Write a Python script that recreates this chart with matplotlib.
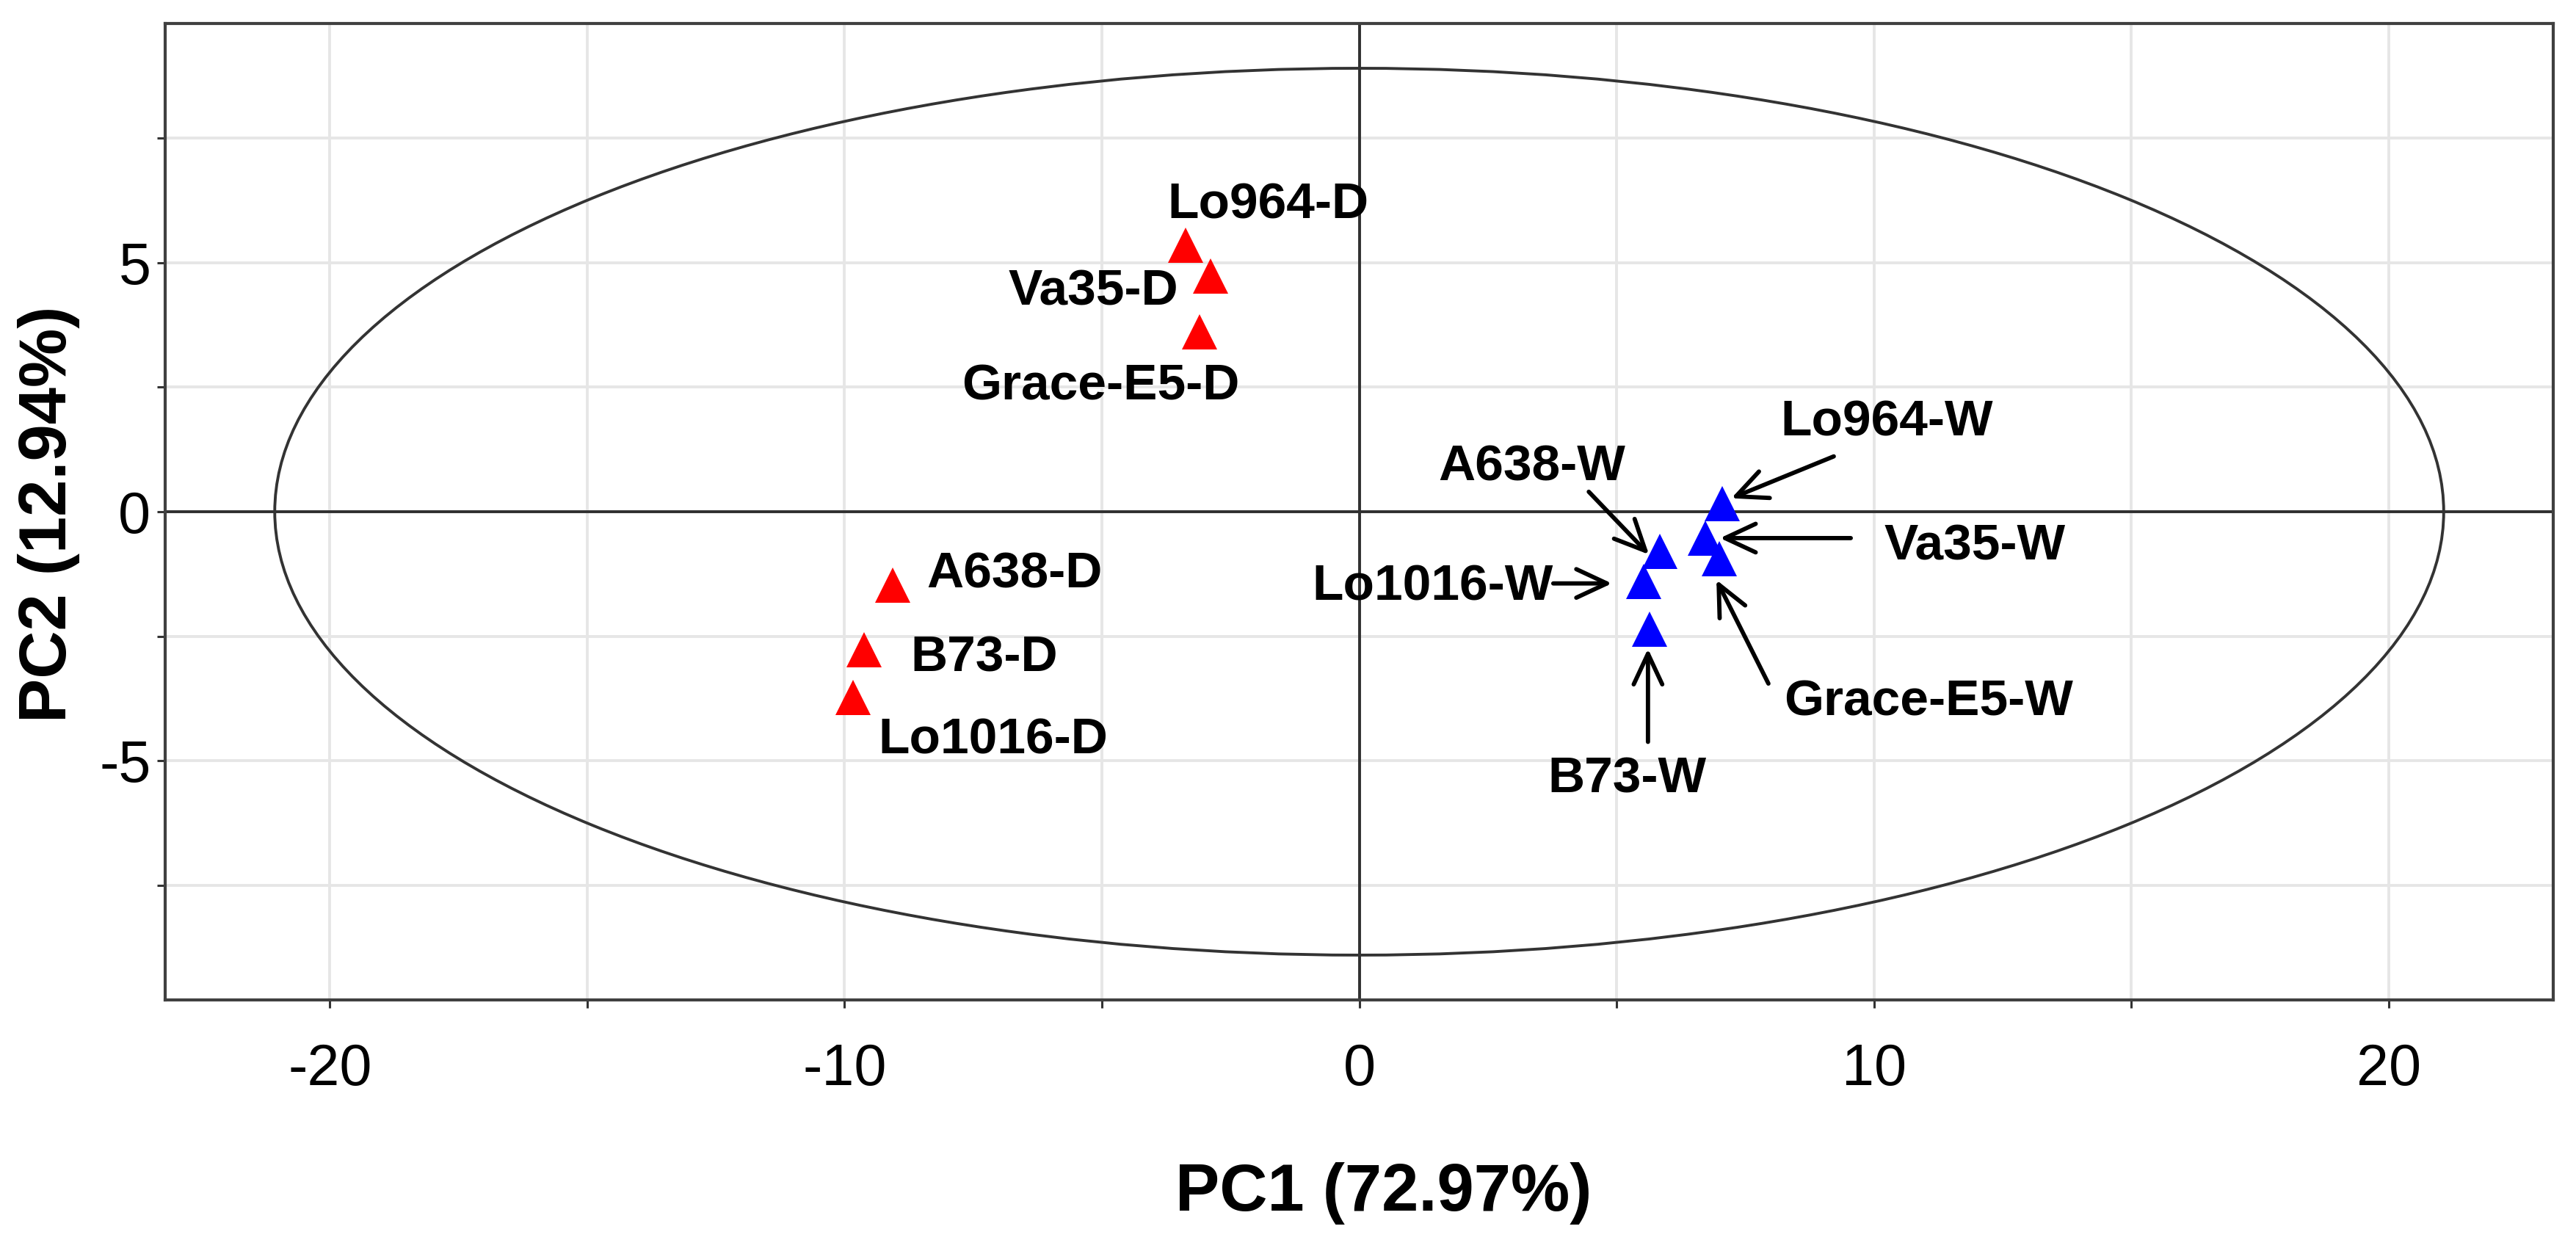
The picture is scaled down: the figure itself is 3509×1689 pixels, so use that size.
import matplotlib
matplotlib.use('Agg')
import matplotlib.pyplot as plt
from matplotlib.patches import Ellipse

# scores
dry_names = ["Lo964-D", "Va35-D", "Grace-E5-D", "A638-D", "B73-D", "Lo1016-D"]
dry_pc1 = [-3.38, -2.89, -3.10, -9.07, -9.62, -9.84]
dry_pc2 = [5.35, 4.73, 3.61, -1.47, -2.77, -3.73]

wet_names = ["Lo964-W", "Va35-W", "Grace-E5-W", "A638-W", "Lo1016-W", "B73-W"]
wet_pc1 = [7.05, 6.72, 6.99, 5.84, 5.53, 5.64]
wet_pc2 = [0.16, -0.53, -0.95, -0.79, -1.40, -2.36]

pc1_label = "PC1 (72.97%)"
pc2_label = "PC2 (12.94%)"

# Hotelling T2 ellipse half axes
ell_a = 21.07
ell_b = 8.9

# label layout (left / baseline of text, data units)
dry_text_pos = {
    "Lo964-D": (-3.72, 5.89),
    "Va35-D": (-6.82, 4.15),
    "Grace-E5-D": (-7.72, 2.24),
    "A638-D": (-8.40, -1.52),
    "B73-D": (-8.72, -3.21),
    "Lo1016-D": (-9.34, -4.86),
}
# text anchor, arrow start, arrow tip
wet_text_pos = {
    "Lo964-W": ((8.19, 1.52), (9.22, 1.11), (7.23, 0.27)),
    "Va35-W": ((10.2, -0.97), (9.55, -0.53), (7.01, -0.53)),
    "Grace-E5-W": ((8.25, -4.09), (7.95, -3.45), (6.94, -1.37)),
    "A638-W": ((1.54, 0.63), (4.46, 0.40), (5.63, -0.86)),
    "Lo1016-W": ((-0.91, -1.78), (3.77, -1.44), (4.91, -1.44)),
    "B73-W": ((3.66, -5.64), (5.61, -4.62), (5.61, -2.75)),
}

plt.rcParams['font.family'] = ['Liberation Sans', 'DejaVu Sans']
plt.rcParams['axes.unicode_minus'] = False

fig = plt.figure(figsize=(17.545, 8.445), dpi=200)
ax = fig.add_axes([0.0641, 0.1936, 0.9271, 0.7875])

ax.set_xlim(-23.2, 23.2)
ax.set_ylim(-9.8, 9.8)
ax.set_xticks([-20, -10, 0, 10, 20])
ax.set_xticks([-15, -5, 5, 15], minor=True)
ax.set_yticks([-5, 0, 5])
ax.set_yticks([-7.5, -2.5, 2.5, 7.5], minor=True)
ax.grid(True, which='both', color='#e6e6e6', lw=1.4, zorder=0)
ax.set_axisbelow(True)

ax.tick_params(axis='both', which='both', direction='out', length=4, width=1.1,
               color='#333333', labelsize=28.5)
ax.tick_params(axis='x', pad=17)
ax.tick_params(axis='y', pad=3)
for sp in ax.spines.values():
    sp.set_color('#404040')
    sp.set_linewidth(1.5)

ax.axhline(0, color='#303030', lw=1.4, zorder=2)
ax.axvline(0, color='#303030', lw=1.4, zorder=2)
ax.add_patch(Ellipse((0, 0), 2 * ell_a, 2 * ell_b, fill=False,
                     ec='#333333', lw=1.4, zorder=2))

ax.plot(dry_pc1, dry_pc2, '^', color='#ff0000', ms=17.3, mew=0, zorder=4)
ax.plot(wet_pc1, wet_pc2, '^', color='#0000ff', ms=17.3, mew=0, zorder=4)

for name in dry_names:
    tx, ty = dry_text_pos[name]
    ax.text(tx, ty, name, fontsize=25, fontweight='bold', ha='left',
            va='baseline', zorder=5)

for name in wet_names:
    (tx, ty), start, tip = wet_text_pos[name]
    ax.text(tx, ty, name, fontsize=25, fontweight='bold', ha='left',
            va='baseline', zorder=5)
    ax.annotate('', xy=tip, xytext=start,
                arrowprops=dict(arrowstyle='->,head_length=0.75,head_width=0.35',
                                color='black', lw=2.1, mutation_scale=20,
                                shrinkA=0, shrinkB=0), zorder=5)

fig.text(1885 / 3509, 1 - 1649 / 1689, pc1_label, fontsize=32.5,
         fontweight='bold', ha='center', va='baseline')
fig.text(67 / 3509, 1 - 700 / 1689, pc2_label, fontsize=32.5,
         fontweight='bold', ha='center', va='center', rotation=90)

fig.savefig('out.png', dpi=200)
plt.close(fig)
